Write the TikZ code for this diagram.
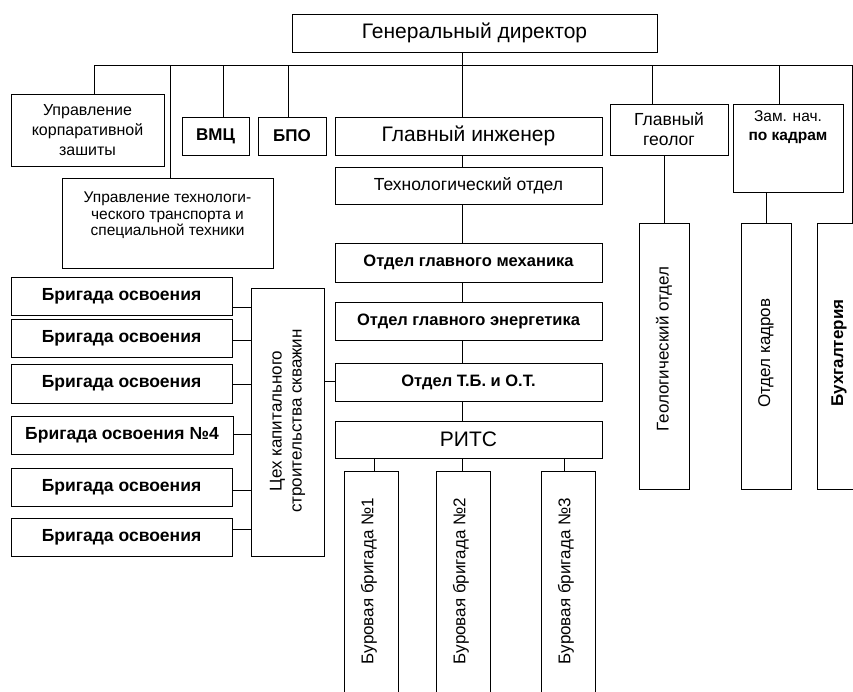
\documentclass[tikz,border=0pt]{standalone}
\usepackage{fontspec}
\setmainfont{Liberation Sans}
\tikzset{
  box/.style={draw=black, line width=0.9pt, inner sep=0pt, outer sep=0pt, align=center, fill=white},
  conn/.style={draw=black, line width=0.9pt},
  lbl/.style={inner sep=0pt, outer sep=0pt, align=center},
}
\newcommand\fs[2]{\fontsize{#1}{#2}\selectfont}
% \bx[opts]{name}{x1}{y1}{x2}{y2}{text}
\newcommand\bx[7][]{%
  \node[box,#1,minimum width={#5-#3},minimum height={#6-#4}] (#2) at ({(#3+#5)/2},{(#4+#6)/2}) {#7};}
\begin{document}
\begin{tikzpicture}[x=1pt,y=-1pt]
\useasboundingbox[fill=white] (0,0) rectangle (853,691);

% boxes
\bx[font=\fs{21}{25}]{gd}{292}{14}{657}{52}{Генеральный директор}
\bx[font=\fs{16}{20}]{upz}{11}{94}{164}{166}{Управление\\корпаративной\\зашиты}
\bx[font=\fs{17}{20}\bfseries]{vmc}{182}{117}{249}{155}{ВМЦ}
\bx[font=\fs{17}{20}\bfseries]{bpo}{258}{117}{326}{155}{БПО}
\bx[font=\fs{21}{25}]{gi}{335}{117}{602}{155}{Главный инженер}
\bx[font=\fs{17.5}{20}]{to}{335}{167}{602}{204}{Технологический отдел}
\bx{utt}{62}{178}{273}{268}{}
\node[lbl,anchor=north,font=\fs{15.5}{16.5}] (utttext) at (167.5,192) {Управление технологи-\\ческого транспорта и\\специальной техники};
\bx[font=\fs{16.5}{20}\bfseries]{ogm}{335}{243}{602}{282}{Отдел главного механика}
\bx[font=\fs{16.5}{20}\bfseries]{oge}{335}{302}{602}{340}{Отдел главного энергетика}
\bx[font=\fs{16.5}{20}\bfseries]{otb}{335}{363}{602}{401}{Отдел Т.Б. и О.Т.}
\bx[font=\fs{21}{25}]{rits}{335}{421}{602}{458}{РИТС}
\bx{bb1}{344}{471}{398}{720}{}
\bx{bb2}{436}{471}{490}{720}{}
\bx{bb3}{541}{471}{595}{720}{}
\node[lbl,rotate=90,font=\fs{17}{20}] (bb1t) at (369,581) {Буровая бригада №1};
\node[lbl,rotate=90,font=\fs{17}{20}] (bb2t) at (461,581) {Буровая бригада №2};
\node[lbl,rotate=90,font=\fs{17}{20}] (bb3t) at (566,581) {Буровая бригада №3};
\bx[font=\fs{17.5}{20}]{gg}{610}{104}{728}{155}{Главный\\геолог}
\bx{zam}{733}{104}{843}{192}{}
\node[lbl,anchor=north,font=\fs{15.5}{19}] (zamt) at (788,111) {Зам. нач.\\\textbf{по кадрам}};
\bx{geo}{639}{223}{689}{489}{}
\node[lbl,rotate=90,font=\fs{17}{20}] (geot) at (664,349) {Геологический отдел};
\bx{ok}{741}{223}{791}{489}{}
\node[lbl,rotate=90,font=\fs{17}{20}] (okt) at (766,353) {Отдел кадров};
\bx{bux}{817}{223}{861}{489}{}
\node[lbl,rotate=90,font=\fs{17}{20}\bfseries] (buxt) at (839,353) {Бухгалтерия};
\bx{cex}{251}{288}{324}{556}{}
\node[lbl,rotate=90,font=\fs{17}{20}] (cext) at (287.5,421) {Цех капитального\\строительства скважин};
\bx[font=\fs{17.5}{20}\bfseries]{b1}{11}{277}{232}{315}{Бригада освоения}
\bx[font=\fs{17.5}{20}\bfseries]{b2}{11}{319}{232}{357}{Бригада освоения}
\bx[font=\fs{17.5}{20}\bfseries]{b3}{11}{364}{232}{403}{Бригада освоения}
\bx[font=\fs{17.5}{20}\bfseries]{b4}{11}{416}{233}{454}{Бригада освоения №4}
\bx[font=\fs{17.5}{20}\bfseries]{b5}{11}{468}{232}{506}{Бригада освоения}
\bx[font=\fs{17.5}{20}\bfseries]{b6}{11}{518}{232}{556}{Бригада освоения}

% bus
\coordinate (bl) at (94,65);
\coordinate (br) at (852,65);
\coordinate (d2) at (170,65);
\coordinate (d3) at (223,65);
\coordinate (d4) at (288,65);
\coordinate (d5) at (462,65);
\coordinate (d6) at (652,65);
\coordinate (d7) at (779,65);
\draw[conn] (upz.north -| bl) -- (bl) -- (br) -- (br |- bux.north);
\draw[conn] (d2) -- (d2 |- utt.north);
\draw[conn] (d3) -- (d3 |- vmc.north);
\draw[conn] (d4) -- (d4 |- bpo.north);
\draw[conn] (d6) -- (d6 |- gg.north);
\draw[conn] (d7) -- (d7 |- zam.north);
\draw[conn] (gd.south -| d5) -- (gi.north -| d5);
\draw[conn] (gi.south -| d5) -- (to.north -| d5);
\draw[conn] (to.south -| d5) -- (ogm.north -| d5);
\draw[conn] (ogm.south -| d5) -- (oge.north -| d5);
\draw[conn] (oge.south -| d5) -- (otb.north -| d5);
\draw[conn] (otb.south -| d5) -- (rits.north -| d5);
% RITS to brigades
\coordinate (r1) at (374,458);
\coordinate (r3) at (564,458);
\draw[conn] (r1) -- (r1 |- bb1.north);
\draw[conn] (rits.south -| d5) -- (bb2.north -| d5);
\draw[conn] (r3) -- (r3 |- bb3.north);
% geolog, kadry
\draw[conn] (gg.south -| geo.north) -- (geo.north);
\draw[conn] (zam.south -| ok.north) -- (ok.north);
% cex
\coordinate (c0) at (335,381);
\draw[conn] (cex.east |- c0) -- (c0);
\coordinate (k1) at (251,307);
\coordinate (k2) at (251,340);
\coordinate (k3) at (251,384);
\coordinate (k4) at (251,434);
\coordinate (k5) at (251,490);
\coordinate (k6) at (251,529);
\draw[conn] (b1.east |- k1) -- (k1);
\draw[conn] (b2.east |- k2) -- (k2);
\draw[conn] (b3.east |- k3) -- (k3);
\draw[conn] (b4.east |- k4) -- (k4);
\draw[conn] (b5.east |- k5) -- (k5);
\draw[conn] (b6.east |- k6) -- (k6);
\end{tikzpicture}
\end{document}
